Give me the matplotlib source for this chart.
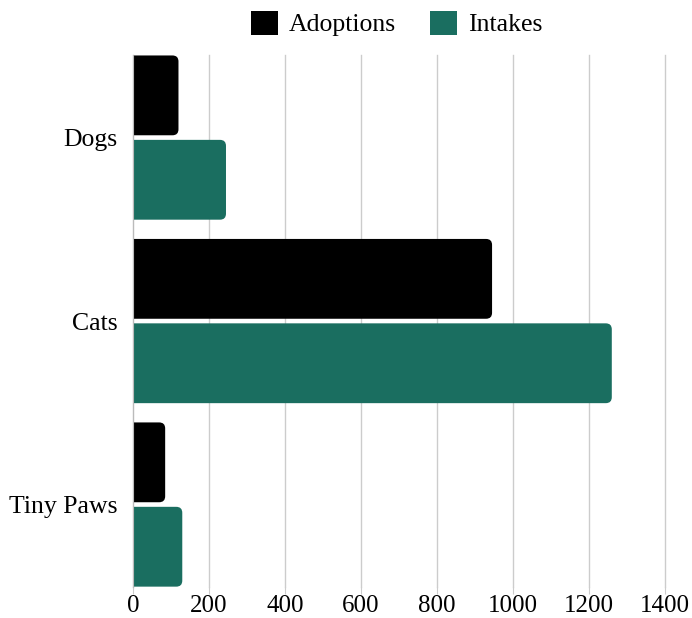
import numpy as np
import matplotlib
matplotlib.use("Agg")
import matplotlib.pyplot as plt
from matplotlib.patches import FancyBboxPatch, Patch

categories = ["Dogs", "Cats", "Tiny Paws"]
adoptions = [120, 945, 85]
intakes = [245, 1260, 130]
series_names = ["Adoptions", "Intakes"]
colors = ["#000000", "#1a6e60"]

plt.rcParams['font.family'] = ['Liberation Serif', 'DejaVu Serif']

fig = plt.figure(figsize=(6.92, 6.18), dpi=100)
ax = fig.add_axes([0.192, 0.050, 0.769, 0.861])

y = np.arange(len(categories))
h = 0.435
off = 0.23

# px per data unit, used to keep corner radius round
x_px = 0.769 * 692 / 1400
y_px = 0.861 * 618 / 2.9
r_px = 6


def rounded_barh(ypos, vals, color, label):
    bars = ax.barh(ypos, vals, height=h, color=color, label=label)
    for b in bars:
        x0, y0 = b.get_x() - 40, b.get_y()
        w, hh = b.get_width() + 40, b.get_height()
        b.set_visible(False)
        p = FancyBboxPatch((x0, y0), w, hh,
                           boxstyle=f"round,pad=0,rounding_size={r_px / x_px}",
                           mutation_aspect=x_px / y_px,
                           facecolor=color, edgecolor="none", zorder=3)
        ax.add_patch(p)
    return bars


rounded_barh(y - off, adoptions, colors[0], series_names[0])
rounded_barh(y + off, intakes, colors[1], series_names[1])

ax.set_xlim(0, 1400)
ax.set_ylim(2.45, -0.45)
ax.set_yticks(y)
ax.set_yticklabels(categories, fontsize=18.5)
ax.set_xticks(np.arange(0, 1401, 200))
ax.tick_params(axis='x', labelsize=18, length=5, color="#cccccc", pad=1)
ax.tick_params(axis='y', length=0, pad=11)
ax.grid(axis='x', color="#cccccc", linewidth=1, zorder=0)
for gl in ax.get_xgridlines():
    gl.set_clip_on(False)
ax.set_axisbelow(True)
for s in ["top", "right", "bottom"]:
    ax.spines[s].set_visible(False)
ax.spines["left"].set_color("#bbbbbb")
ax.spines["left"].set_zorder(4)

handles = [Patch(facecolor=c, edgecolor="none") for c in colors]
fig.legend(handles, series_names, loc="upper center", bbox_to_anchor=(0.573, 1.02),
           ncol=2, frameon=False, fontsize=18.5, handlelength=1.05, handleheight=1.05,
           handletextpad=0.45, columnspacing=1.3)

fig.savefig("out.png", dpi=100)
